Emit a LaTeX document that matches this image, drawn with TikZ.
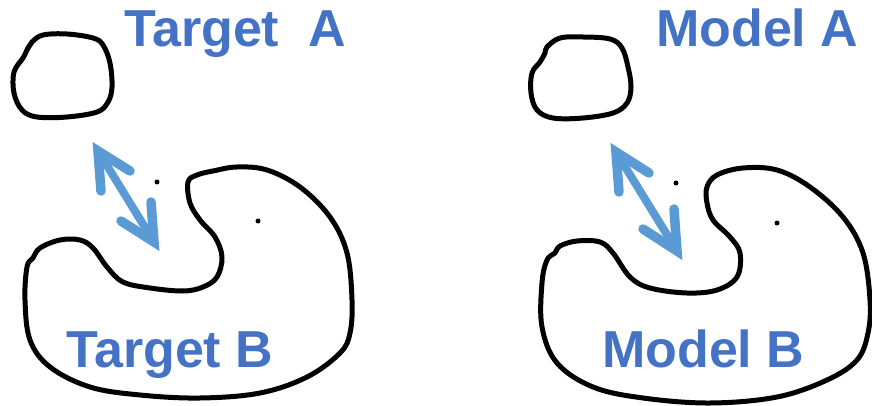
\documentclass[tikz,border=0pt]{standalone}
\usepackage{fontspec}
\setmainfont{Liberation Sans}
\definecolor{lbl}{HTML}{4472C4}
\definecolor{arr}{HTML}{5B9BD5}
\tikzset{
  blob/.style={draw=black, line width=5pt, line join=round},
  lab/.style={text=lbl, font=\fontsize{52}{52}\selectfont\bfseries, inner sep=0pt, anchor=base west},
  shaft/.style={draw=arr, line width=8pt, line cap=round},
  barb/.style={draw=arr, line width=9.5pt, line cap=round, line join=miter, miter limit=10},
  dotmark/.style={fill=black}
}
\begin{document}
\begin{tikzpicture}[x=1pt,y=-1pt]
\useasboundingbox (0,0) rectangle (872,406);
% ---- left: Target ----
\draw[blob] plot[smooth cycle, tension=0.6] coordinates {
 (32,42) (43,35) (67,34) (93,38) (103,45) (110,63) (112,87) (108,102)
 (97,112) (67,117) (37,117) (22,110) (14,93) (14,72) (23,58) (28,48)};
\draw[blob] plot[smooth cycle, tension=0.6] coordinates {
 (188,182) (197,175) (213,171) (237,167) (267,170) (300,187) (330,217)
 (347,253) (352,300) (350,333) (340,353) (307,377) (260,393) (200,398)
 (140,395) (90,387) (50,367) (30,340) (25,300) (27,267) (33,258) (40,248)
 (60,240) (80,240) (93,248) (107,267) (123,282) (150,288) (183,291)
 (203,287) (217,277) (222,257) (215,237) (200,220) (190,203)};
\fill[dotmark] (157,182) circle (2.5);
\fill[dotmark] (258,221) circle (2.5);
\coordinate (ta) at (98,151);
\coordinate (tb) at (154,242);
\draw[shaft] (ta) -- (tb);
\draw[barb] ([shift={(3,40)}]ta) -- (ta) -- ([shift={(32,20)}]ta);
\draw[barb] ([shift={(-3,-40)}]tb) -- (tb) -- ([shift={(-33,-21)}]tb);
\node[lab] (targetA) at (124,47) {Target\ \ A};
\node[lab] (targetB) at (66,367) {Target B};
% ---- right: Model ----
\draw[blob] plot[smooth cycle, tension=0.6] coordinates {
 (547,47) (560,38) (583,37) (610,39) (622,48) (628,67) (631,87) (627,103)
 (613,113) (583,118) (553,118) (537,110) (531,93) (532,73) (540,62) (545,53)};
\draw[blob] plot[smooth cycle, tension=0.6] coordinates {
 (707,187) (717,175) (743,168) (777,170) (810,187) (843,217) (863,253)
 (870,300) (868,333) (857,360) (827,380) (777,397) (710,403) (643,398)
 (593,387) (557,363) (542,327) (542,283) (547,260) (555,253) (560,246)
 (577,241) (600,242) (613,253) (630,277) (650,288) (687,293) (717,290)
 (737,277) (740,253) (730,237) (713,220) (707,203)};
\fill[dotmark] (676,183) circle (2.5);
\fill[dotmark] (777,223) circle (2.5);
\coordinate (ma) at (616,152);
\coordinate (mb) at (677,251);
\draw[shaft] (ma) -- (mb);
\draw[barb] ([shift={(3,40)}]ma) -- (ma) -- ([shift={(33,21)}]ma);
\draw[barb] ([shift={(-3,-42)}]mb) -- (mb) -- ([shift={(-34,-22)}]mb);
\node[lab] (modelA) at (656,47) {Model A};
\node[lab] (modelB) at (602,367) {Model B};
\end{tikzpicture}
\end{document}
